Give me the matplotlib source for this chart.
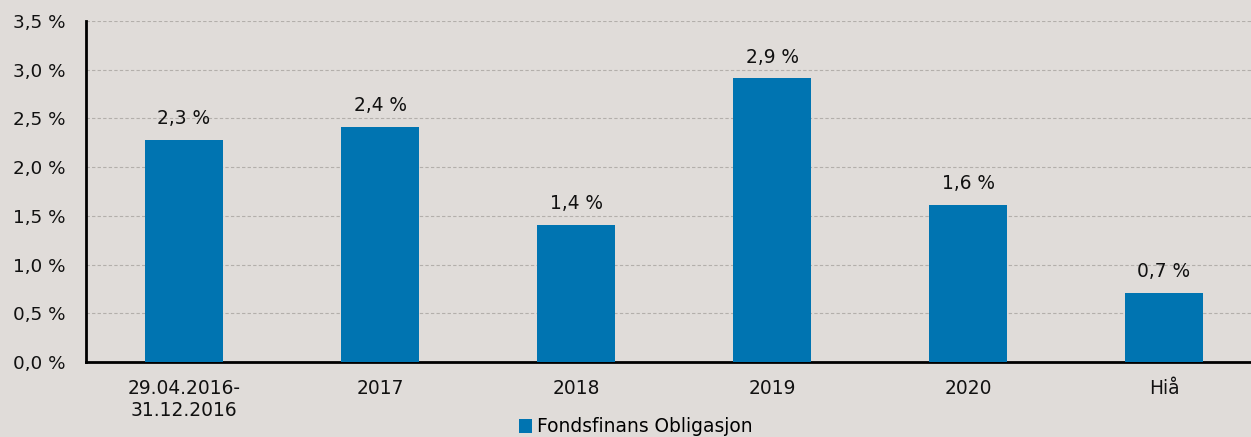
import matplotlib.pyplot as plt
from matplotlib.ticker import FuncFormatter

# Data
kategorier = ['29.04.2016-\n31.12.2016', '2017', '2018', '2019', '2020', 'Hiå']
avkastning = [2.28, 2.41, 1.41, 2.91, 1.61, 0.71]
serie_navn = 'Fondsfinans Obligasjon'

bakgrunn = '#e0dcd9'
blaa = '#0074b1'

plt.rcParams['font.family'] = ['DejaVu Sans']

fig = plt.figure(figsize=(12.51, 4.37), dpi=100, facecolor=bakgrunn)
ax = fig.add_axes([86 / 1251, 75 / 437, 1176 / 1251, 341 / 437])
ax.set_facecolor(bakgrunn)

x = range(len(kategorier))
bars = ax.bar(x, avkastning, width=0.4, color=blaa, label=serie_navn, zorder=3)

# Verdietiketter over søylene
for b, v in zip(bars, avkastning):
    ax.annotate(f'{v:.1f} %'.replace('.', ','),
                (b.get_x() + b.get_width() / 2, b.get_height()),
                xytext=(0, 8.5), textcoords='offset points',
                ha='center', va='bottom', fontsize=13.4, color='#111111')

ax.set_xlim(-0.5, len(kategorier) - 0.5)
ax.set_ylim(0, 3.5)
ax.set_yticks([i * 0.5 for i in range(8)])
ax.yaxis.set_major_formatter(FuncFormatter(lambda v, p: f'{v:.1f} %'.replace('.', ',')))
ax.set_xticks(list(x))
ax.set_xticklabels(kategorier)

ax.tick_params(axis='y', length=0, pad=15, labelsize=13.2, colors='#111111')
ax.tick_params(axis='x', length=0, pad=12, labelsize=13.4, colors='#111111')

ax.grid(axis='y', color='#b3afab', linestyle=(0, (3, 2)), linewidth=0.8, zorder=0)
for s in ['top', 'right']:
    ax.spines[s].set_visible(False)
ax.spines['left'].set_linewidth(2)
ax.spines['bottom'].set_linewidth(2)
ax.spines['left'].set_color('black')
ax.spines['bottom'].set_color('black')

fig.legend(loc='center', bbox_to_anchor=(636 / 1251, 1 - 427 / 437), frameon=False,
           fontsize=13.4, handlelength=0.7, handleheight=0.7, handletextpad=0.3)

fig.savefig('out.png', dpi=100, facecolor=bakgrunn)
